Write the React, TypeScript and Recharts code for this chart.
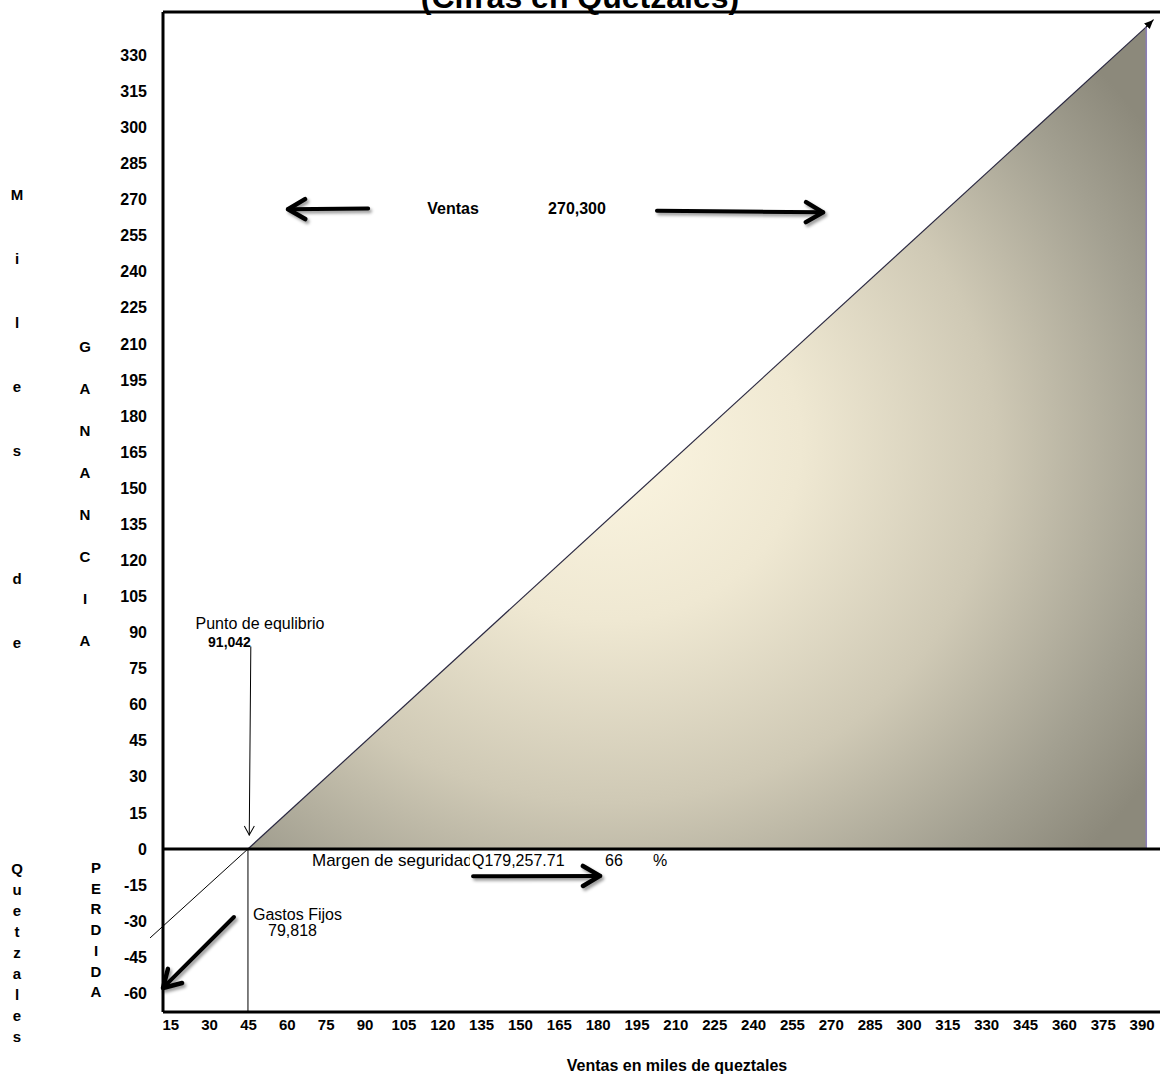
import React from 'react';
import { ComposedChart, Area, XAxis, YAxis, ReferenceLine } from 'recharts';

// ---------- data (in the units of the picture's axes: miles de quetzales) ----------
const salesX = [44.8, 391.6];
const profitY = [0, 341.8];
const xTicks = [15, 30, 45, 60, 75, 90, 105, 120, 135, 150, 165, 180, 195, 210, 225, 240, 255, 270, 285, 300, 315, 330, 345, 360, 375, 390];
const yTicks = [-60, -45, -30, -15, 0, 15, 30, 45, 60, 75, 90, 105, 120, 135, 150, 165, 180, 195, 210, 225, 240, 255, 270, 285, 300, 315, 330];
const xDomain = [12, 396.9];
const yDomain = [-67.8, 348];

// annotation arrows (data coordinates)
const ventasArrows = [
  [{ x: 91.2, y: 266.3 }, { x: 60.3, y: 266.0 }],
  [{ x: 202.7, y: 265.4 }, { x: 266.8, y: 264.7 }],
];
const margenArrow = [{ x: 131.7, y: -11.4 }, { x: 180.7, y: -11.2 }];
const gastosArrow = [{ x: 39.4, y: -28.3 }, { x: 12.0, y: -57.8 }];
const equilibrioArrow = [{ x: 45.9, y: 84.0 }, { x: 45.3, y: 5.8 }];
const tipArrow = [{ x: 391.6, y: 341.8 }, { x: 394.3, y: 344.7 }];
const salesExtension = [{ x: 7.0, y: -37.0 }, { x: 44.8, y: 0 }];
const breakevenDrop = [{ x: 44.8, y: 0 }, { x: 44.8, y: -67.8 }];
const rightEdge = [{ x: 391.6, y: 0 }, { x: 391.6, y: 341.8 }];

// texts
const titleText = '(Cifras en Quetzales)';
const ventasLabel = 'Ventas';
const ventasValue = '270,300';
const equilibrioLabel = 'Punto de equlibrio';
const equilibrioValue = '91,042';
const margenLabel = 'Margen de seguridad';
const margenValue = 'Q179,257.71';
const margenPct = '66';
const pctSign = '%';
const gastosLabel = 'Gastos Fijos';
const gastosValue = '79,818';
const xTitle = 'Ventas en miles de queztales';
const colMiles = 'Miles de';
const colQuetzales = 'Quetzales';
const colGanancia = 'GANANCIA';
const colPerdida = 'PERDIDA';

const data = salesX.map((x, i) => ({ x, y: profitY[i] }));

const FONT = "Arial, 'Liberation Sans', Helvetica, sans-serif";

const arrowShape = (marker: string, width: number, shadow: boolean) => (p: any) => (
  <line
    x1={p.x1}
    y1={p.y1}
    x2={p.x2}
    y2={p.y2}
    stroke="#000"
    strokeWidth={width}
    strokeLinecap="round"
    markerEnd={`url(#${marker})`}
    filter={shadow ? 'url(#arrowShadow)' : undefined}
  />
);

function Column({ letters, x, y0, step }: { letters: string; x: number; y0: number; step: number }) {
  return (
    <text x={x} textAnchor="middle" fontWeight="bold" fontSize={15} fontFamily={FONT} fill="#000">
      {letters.split('').map((ch, i) =>
        ch === ' ' ? null : (
          <tspan key={i} x={x} y={y0 + i * step}>
            {ch}
          </tspan>
        )
      )}
    </text>
  );
}

export default function App() {
  const tickStyleX = { fill: '#000', fontSize: 15, fontWeight: 'bold', fontFamily: FONT };
  const tickStyleY = { fill: '#000', fontSize: 16, fontWeight: 'bold', fontFamily: FONT };
  return (
    <div style={{ position: 'absolute', left: 0, top: 0, width: 1160, height: 1074, background: '#fff', overflow: 'hidden' }}>
      <ComposedChart width={1160} height={1074} data={data} margin={{ top: 12, right: 0, bottom: 0, left: 0 }}>
        <XAxis
          dataKey="x"
          type="number"
          domain={xDomain}
          ticks={xTicks}
          interval={0}
          allowDataOverflow
          height={62}
          tickLine={false}
          tickMargin={1}
          axisLine={{ stroke: '#000', strokeWidth: 3 }}
          tick={tickStyleX}
        />
        <YAxis
          type="number"
          domain={yDomain}
          ticks={yTicks}
          interval={0}
          allowDataOverflow
          width={163}
          tickLine={false}
          tickMargin={10}
          axisLine={{ stroke: '#000', strokeWidth: 3 }}
          tick={tickStyleY}
        />
        <Area
          type="linear"
          dataKey="y"
          baseValue={0}
          fill="url(#profitFill)"
          fillOpacity={1}
          stroke="#2a2840"
          strokeWidth={1.2}
          dot={false}
          activeDot={false}
          isAnimationActive={false}
        />
        <ReferenceLine y={yDomain[1]} ifOverflow="visible" stroke="#000" strokeWidth={3} />
        <ReferenceLine segment={rightEdge} ifOverflow="visible" stroke="#8a7db5" strokeWidth={1.5} />
        <ReferenceLine y={0} ifOverflow="visible" stroke="#000" strokeWidth={3} />
        <ReferenceLine segment={salesExtension} ifOverflow="visible" stroke="#000" strokeWidth={1} />
        <ReferenceLine segment={breakevenDrop} ifOverflow="visible" stroke="#000" strokeWidth={1} />
        <ReferenceLine segment={equilibrioArrow} ifOverflow="visible" shape={arrowShape('thinHead', 1, false)} />
        <ReferenceLine segment={tipArrow} ifOverflow="visible" shape={arrowShape('tipHead', 1.2, false)} />
        <ReferenceLine segment={ventasArrows[0]} ifOverflow="visible" shape={arrowShape('thickHead', 4, true)} />
        <ReferenceLine segment={ventasArrows[1]} ifOverflow="visible" shape={arrowShape('thickHead', 4, true)} />
        <ReferenceLine segment={margenArrow} ifOverflow="visible" shape={arrowShape('thickHead', 4, true)} />
        <ReferenceLine segment={gastosArrow} ifOverflow="visible" shape={arrowShape('thickHead', 4, true)} />
      </ComposedChart>
      <svg
        width={1160}
        height={1074}
        style={{ position: 'absolute', left: 0, top: 0, pointerEvents: 'none' }}
        fontFamily={FONT}
      >
        <defs>
          <radialGradient id="profitFill" cx="0.4" cy="0.52" r="0.72" fx="0.4" fy="0.5">
            <stop offset="0" stopColor="#fcf6e2" />
            <stop offset="0.3" stopColor="#efe8d2" />
            <stop offset="0.6" stopColor="#cfc9b5" />
            <stop offset="0.85" stopColor="#a3a091" />
            <stop offset="1" stopColor="#8c897b" />
          </radialGradient>
          <marker id="thickHead" markerUnits="userSpaceOnUse" markerWidth={26} markerHeight={26} viewBox="0 0 26 26" refX={21} refY={13} orient="auto">
            <path d="M4,3 L21,13 L4,23" fill="none" stroke="#000" strokeWidth={4.5} strokeLinecap="round" strokeLinejoin="round" />
          </marker>
          <marker id="thinHead" markerUnits="userSpaceOnUse" markerWidth={14} markerHeight={14} viewBox="0 0 14 14" refX={12} refY={7} orient="auto">
            <path d="M3,2 L12,7 L3,12" fill="none" stroke="#000" strokeWidth={1} />
          </marker>
          <marker id="tipHead" markerUnits="userSpaceOnUse" markerWidth={10} markerHeight={10} viewBox="0 0 10 10" refX={9} refY={5} orient="auto">
            <path d="M0,1 L9,5 L0,9 Z" fill="#000" />
          </marker>
          <filter id="arrowShadow" filterUnits="userSpaceOnUse" x={0} y={0} width={1160} height={1074}>
            <feDropShadow dx="2" dy="2.5" stdDeviation="1.5" floodColor="#000" floodOpacity="0.4" />
          </filter>
          <clipPath id="margenClip">
            <rect x={300} y={840} width={170} height={40} />
          </clipPath>
        </defs>

        <text x={580} y={8} textAnchor="middle" fontSize={32} fontWeight="bold" fill="#000">{titleText}</text>

        <text x={453} y={214} textAnchor="middle" fontSize={16} fontWeight="bold" fill="#000">{ventasLabel}</text>
        <text x={577} y={214} textAnchor="middle" fontSize={16} fontWeight="bold" fill="#000">{ventasValue}</text>

        <text x={260} y={629} textAnchor="middle" fontSize={16} fill="#000">{equilibrioLabel}</text>
        <text x={229.5} y={647} textAnchor="middle" fontSize={14} fontWeight="bold" fill="#000">{equilibrioValue}</text>

        <text x={312} y={866} fontSize={17} fill="#000" clipPath="url(#margenClip)">{margenLabel}</text>
        <text x={472} y={866} fontSize={16} fill="#000">{margenValue}</text>
        <text x={605} y={866} fontSize={16} fill="#000">{margenPct}</text>
        <text x={653} y={866} fontSize={16} fill="#000">{pctSign}</text>

        <text x={253} y={920} fontSize={16} fill="#000">{gastosLabel}</text>
        <text x={268} y={936} fontSize={16} fill="#000">{gastosValue}</text>

        <text x={677} y={1071} textAnchor="middle" fontSize={16} fontWeight="bold" fill="#000">{xTitle}</text>

        <Column letters={colMiles} x={17} y0={200} step={64} />
        <Column letters={colQuetzales} x={17} y0={874} step={21} />
        <Column letters={colGanancia} x={85} y0={352} step={42} />
        <Column letters={colPerdida} x={96} y0={873} step={20.7} />
      </svg>
    </div>
  );
}
